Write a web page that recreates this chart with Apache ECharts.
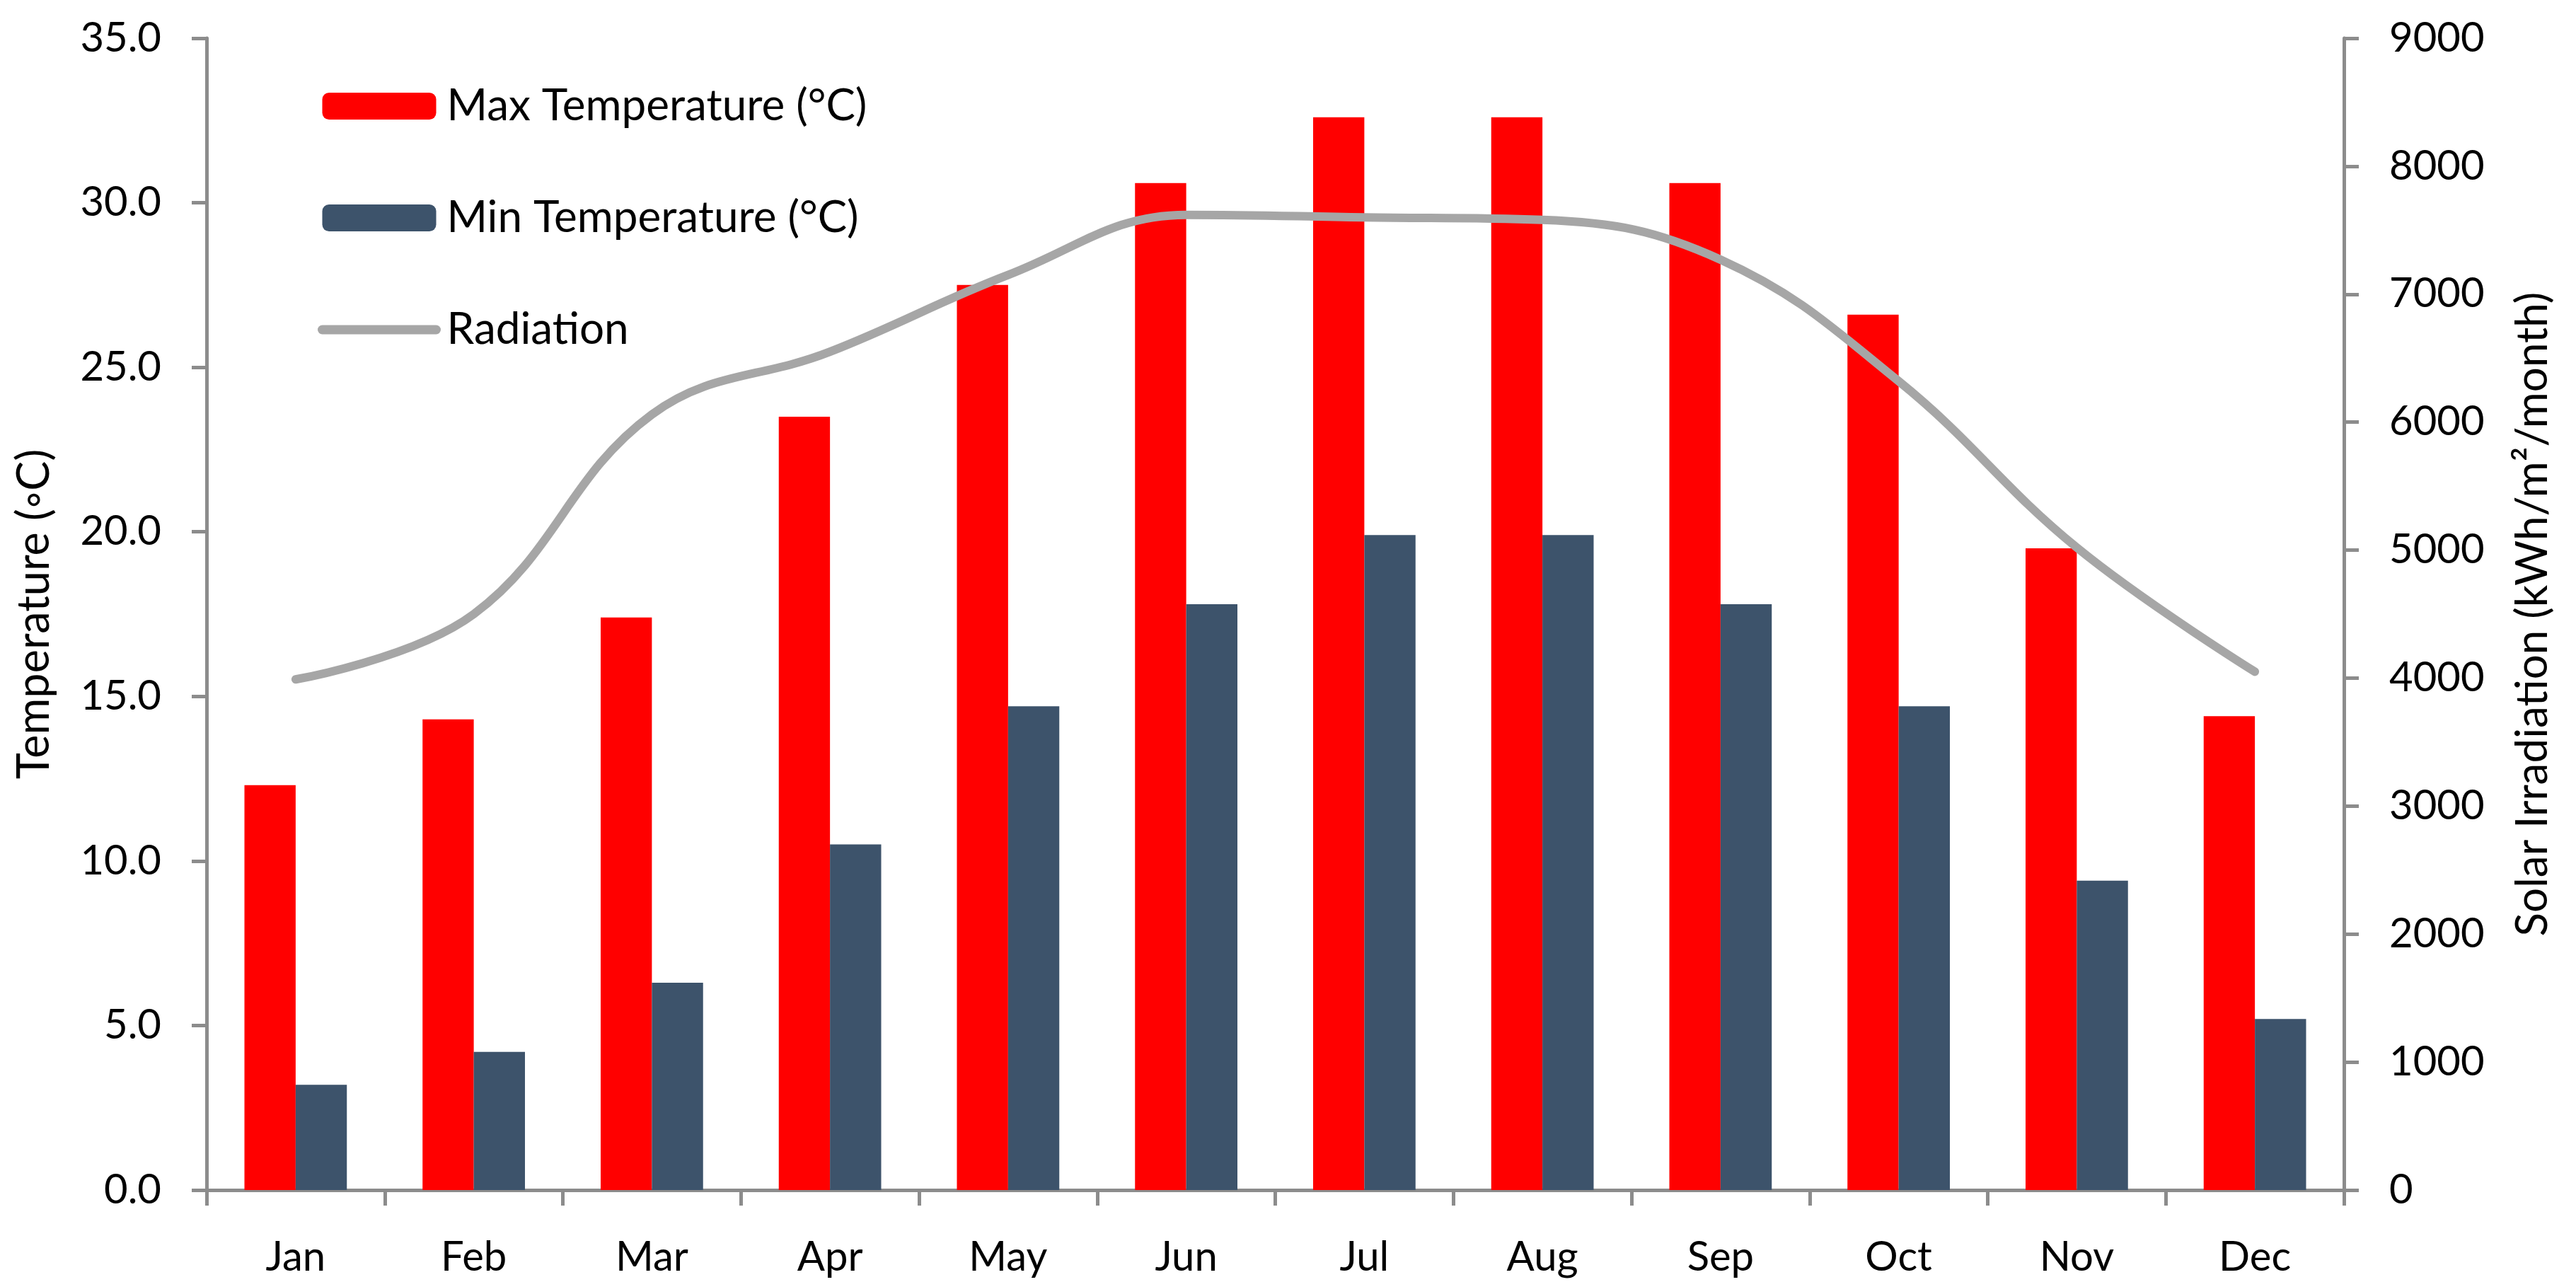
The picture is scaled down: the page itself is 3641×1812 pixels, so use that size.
<!DOCTYPE html>
<html>
<head>
<meta charset="utf-8">
<script src="https://cdn.jsdelivr.net/npm/echarts@6/dist/echarts.min.js"></script>
<style>
html,body{margin:0;padding:0;background:#fff;}
#chart{width:3641px;height:1812px;}
</style>
</head>
<body>
<div id="chart"></div>
<script>
const months = ['Jan','Feb','Mar','Apr','May','Jun','Jul','Aug','Sep','Oct','Nov','Dec'];
const maxTemp = [12.3, 14.3, 17.4, 23.5, 27.5, 30.6, 32.6, 32.6, 30.6, 26.6, 19.5, 14.4];
const minTemp = [3.2, 4.2, 6.3, 10.5, 14.7, 17.8, 19.9, 19.9, 17.8, 14.7, 9.4, 5.2];
const radiation = [3990, 4500, 6060, 6550, 7150, 7620, 7600, 7580, 7270, 6320, 5020, 4050];

const FONT = 'Lato';
const AXIS_COLOR = '#8c8c8c';
const chart = echarts.init(document.getElementById('chart'));
chart.setOption({
  animation: false,
  backgroundColor: '#fff',
  textStyle: { fontFamily: FONT },
  grid: { left: 292, right: 328, top: 54, bottom: 130, containLabel: false },
  legend: {
    orient: 'vertical', left: 449, top: 119, padding: 0,
    itemWidth: 161, itemHeight: 38, itemGap: 96,
    textStyle: { fontFamily: FONT, fontSize: 62, color: '#000', padding: [0, 0, 0, 10] },
    data: [
      { name: 'Max Temperature (°C)' },
      { name: 'Min Temperature (°C)' },
      { name: 'Radiation', itemStyle: { opacity: 0 }, lineStyle: { width: 13, cap: 'round', color: '#a6a6a6' } }
    ]
  },
  xAxis: {
    type: 'category', data: months,
    axisLine: { lineStyle: { color: AXIS_COLOR, width: 5 } },
    axisTick: { show: true, length: 22, lineStyle: { color: AXIS_COLOR, width: 5 } },
    axisLabel: { fontFamily: FONT, fontSize: 58, color: '#000', margin: 66 }
  },
  yAxis: [
    {
      type: 'value', min: 0, max: 35, interval: 5, position: 'left',
      name: 'Temperature (◦C)', nameLocation: 'middle', nameGap: 212,
      nameTextStyle: { fontFamily: FONT, fontSize: 63, color: '#000' },
      axisLine: { show: true, lineStyle: { color: AXIS_COLOR, width: 5 } },
      axisTick: { show: true, length: 21, lineStyle: { color: AXIS_COLOR, width: 5 } },
      axisLabel: { fontFamily: FONT, fontSize: 58, color: '#000', margin: 64, formatter: v => v.toFixed(1) },
      splitLine: { show: false }
    },
    {
      type: 'value', min: 0, max: 9000, interval: 1000, position: 'right',
      name: 'Solar Irradiation (kWh/m²/month)', nameLocation: 'middle', nameGap: 236, nameRotate: 90,
      nameTextStyle: { fontFamily: FONT, fontSize: 62, color: '#000' },
      axisLine: { show: true, lineStyle: { color: AXIS_COLOR, width: 5 } },
      axisTick: { show: true, length: 21, lineStyle: { color: AXIS_COLOR, width: 5 } },
      axisLabel: { fontFamily: FONT, fontSize: 58, color: '#000', margin: 64, formatter: v => String(v) },
      splitLine: { show: false }
    }
  ],
  series: [
    {
      name: 'Max Temperature (°C)', type: 'bar', data: maxTemp, yAxisIndex: 0,
      itemStyle: { color: '#ff0000' }, barGap: '0%', barCategoryGap: '42.5%'
    },
    {
      name: 'Min Temperature (°C)', type: 'bar', data: minTemp, yAxisIndex: 0,
      itemStyle: { color: '#3d536b' }, barGap: '0%', barCategoryGap: '42.5%'
    },
    {
      name: 'Radiation', type: 'line', data: radiation, yAxisIndex: 1,
      smooth: 0.4, symbol: 'none', showSymbol: false,
      lineStyle: { color: '#a6a6a6', width: 12, cap: 'round', join: 'round' },
      itemStyle: { color: '#a6a6a6' }
    }
  ]
});
</script>
</body>
</html>
